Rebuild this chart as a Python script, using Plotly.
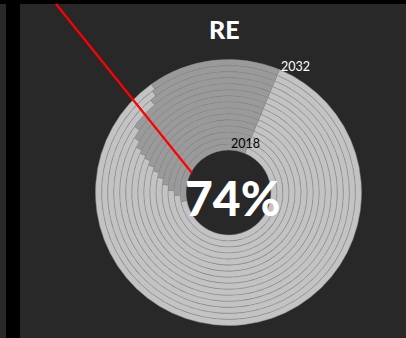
import plotly.graph_objects as go

# Renewable-energy share per year, one ring per year (inner = first year)
years = [2018, 2019, 2020, 2021, 2022, 2023, 2024, 2025, 2026, 2027, 2028, 2029, 2030, 2031, 2032]
re_share = [65.7, 67.9, 69.3, 70.7, 72.1, 73.2, 74.0, 74.9, 75.4, 76.0, 77.1, 78.5, 82.6, 83.5, 83.9]
highlight_year = 2024
title_text = "RE"

W, H = 406, 338
BG = "#282828"
LIGHT = "#c3c3c3"
DARK = "#9a9a9a"
SEP = "#8e8e8e"

# donut geometry (pixels)
cx_px, cy_px = 228.5, 192.5
r_hole, r_outer = 42.5, 133.0
ring_w = (r_outer - r_hole) / len(years)


def px_x(x):
    return x / W


def px_y(y):
    return 1 - y / H


fig = go.Figure()

for i, (yr, share) in enumerate(zip(years, re_share)):
    r_in = r_hole + i * ring_w
    r_out = r_in + ring_w
    fig.add_trace(go.Pie(
        values=[share, 100 - share],
        labels=["RE", "Other"],
        sort=False,
        direction="clockwise",
        rotation=22.5,
        hole=r_in / r_out,
        domain=dict(x=[px_x(cx_px - r_out), px_x(cx_px + r_out)],
                    y=[px_y(cy_px + r_out), px_y(cy_px - r_out)]),
        marker=dict(colors=[LIGHT, DARK], line=dict(color=SEP, width=0.5)),
        textinfo="none",
        hoverinfo="label+percent",
        name=str(yr),
        showlegend=False,
    ))

value = re_share[years.index(highlight_year)]

fig.update_layout(
    width=W, height=H,
    margin=dict(l=0, r=0, t=0, b=0),
    paper_bgcolor=BG,
    plot_bgcolor=BG,
    showlegend=False,
    shapes=[
        # frame strips
        dict(type="rect", xref="paper", yref="paper", x0=0, x1=1,
             y0=px_y(4), y1=1, fillcolor="black", line_width=0),
        dict(type="rect", xref="paper", yref="paper", x0=px_x(6), x1=px_x(20),
             y0=0, y1=1, fillcolor="black", line_width=0),
        # pointer line
        dict(type="line", xref="paper", yref="paper",
             x0=px_x(56), y0=px_y(4), x1=px_x(192), y1=px_y(173),
             line=dict(color="#ff0000", width=2.2)),
    ],
    annotations=[
        dict(text=title_text, x=px_x(224), y=px_y(29), xref="paper", yref="paper",
             showarrow=False, xanchor="center", yanchor="middle",
             font=dict(family="Lato", size=25, color="white", weight=900)),
        dict(text=f"{value:.0f}%", x=px_x(232), y=px_y(197), xref="paper", yref="paper",
             showarrow=False, xanchor="center", yanchor="middle",
             font=dict(family="Lato", size=48, color="white", weight=900)),
        dict(text=str(years[0]), x=px_x(245), y=px_y(143), xref="paper", yref="paper",
             showarrow=False, xanchor="center", yanchor="middle",
             font=dict(family="Lato", size=12.5, color="black")),
        dict(text=str(years[-1]), x=px_x(295), y=px_y(66), xref="paper", yref="paper",
             showarrow=False, xanchor="center", yanchor="middle",
             font=dict(family="Lato", size=12.5, color="white")),
    ],
)

fig.write_html("out.html")
